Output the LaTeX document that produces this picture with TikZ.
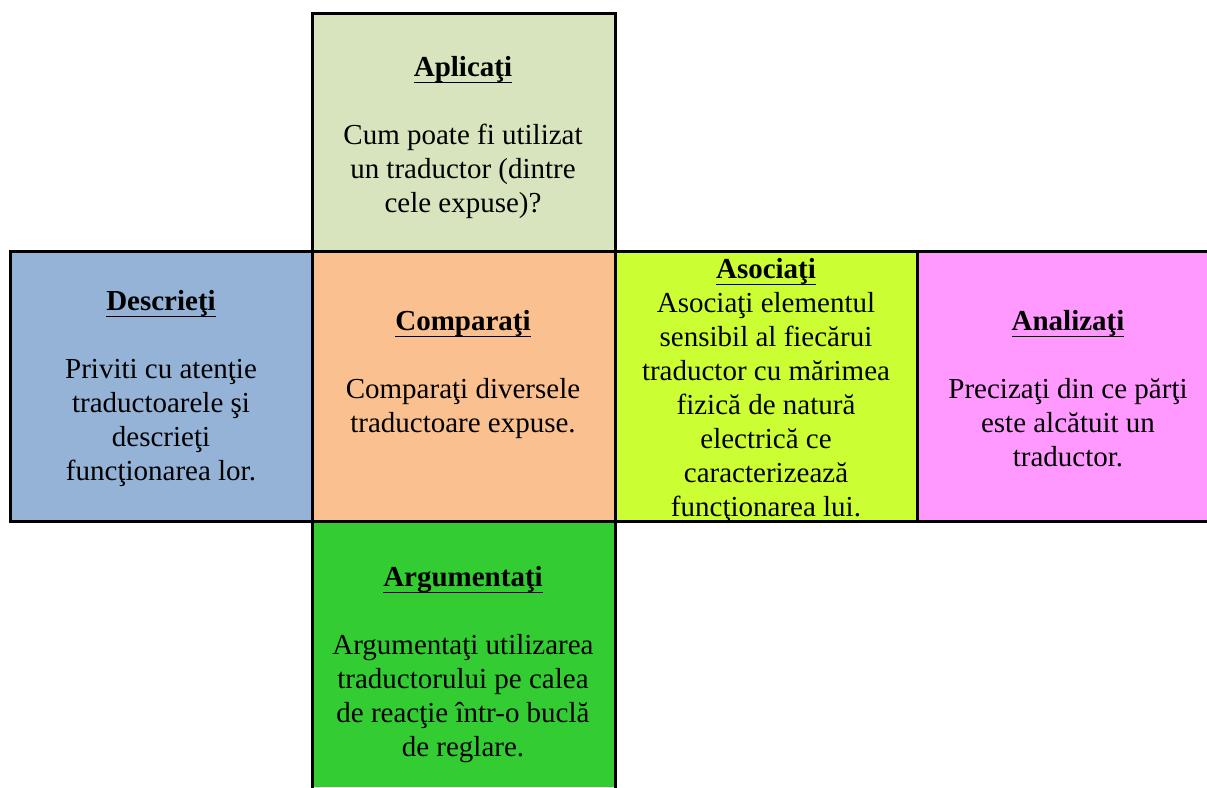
\documentclass[tikz,border=0pt]{standalone}
\usepackage{fontspec}
\setmainfont{Liberation Serif}
\definecolor{aplic}{HTML}{D7E4BD}
\definecolor{descr}{HTML}{95B3D7}
\definecolor{compar}{HTML}{FAC090}
\definecolor{asoc}{HTML}{CCFF33}
\definecolor{anal}{HTML}{FF99FF}
\definecolor{argum}{HTML}{33CC33}
\newsavebox\ttlbox
\newcommand\ttl[1]{\sbox\ttlbox{\textbf{#1}}\rlap{\usebox\ttlbox}\rule[-7pt]{\wd\ttlbox}{1.8pt}}
\begin{document}
\begin{tikzpicture}[x=1pt,y=-1pt,
  boxline/.style={line width=3pt, line cap=rect},
  txt/.style={align=center, font=\fontsize{29}{34}\selectfont, inner sep=0pt, anchor=north}]
\useasboundingbox (0,0) rectangle (1207,787);
% fills
\fill[aplic]  (312,13)  rectangle (615,251);
\fill[descr]  (10,251)  rectangle (312,521);
\fill[compar] (312,251) rectangle (615,521);
\fill[asoc]   (615,251) rectangle (917,521);
\fill[anal]   (917,251) rectangle (1207,521);
\fill[argum]  (312,521) rectangle (615,787);
% borders
\draw[boxline] (312,251) -- (312,13) -- (615,13) -- (615,251);
\draw[boxline] (10,251) -- (1208,251);
\draw[boxline] (10,521) -- (1208,521);
\draw[boxline] (10,251) -- (10,521);
\draw[boxline] (312,251) -- (312,788);
\draw[boxline] (615,251) -- (615,788);
\draw[boxline] (917,251) -- (917,521);
% texts
\node[txt] (aplicati) at (463,56) {\ttl{Aplicaţi}\\[34pt]Cum poate fi utilizat\\un traductor (dintre\\cele expuse)?};
\node[txt] (descrieti) at (161,290) {\ttl{Descrieţi}\\[34pt]Priviti cu atenţie\\traductoarele şi\\descrieţi\\funcţionarea lor.};
\node[txt] (comparati) at (463,310) {\ttl{Comparaţi}\\[34pt]Comparaţi diversele\\traductoare expuse.};
\node[txt] (asociati) at (766,258) {\ttl{Asociaţi}\\Asociaţi elementul\\sensibil al fiecărui\\traductor cu mărimea\\fizică de natură\\electrică ce\\caracterizează\\funcţionarea lui.};
\node[txt] (analizati) at (1068,310) {\ttl{Analizaţi}\\[34pt]Precizaţi din ce părţi\\este alcătuit un\\traductor.};
\node[txt] (argumentati) at (463,566) {\ttl{Argumentaţi}\\[34pt]Argumentaţi utilizarea\\traductorului pe calea\\de reacţie într-o buclă\\de reglare.};
\end{tikzpicture}
\end{document}
